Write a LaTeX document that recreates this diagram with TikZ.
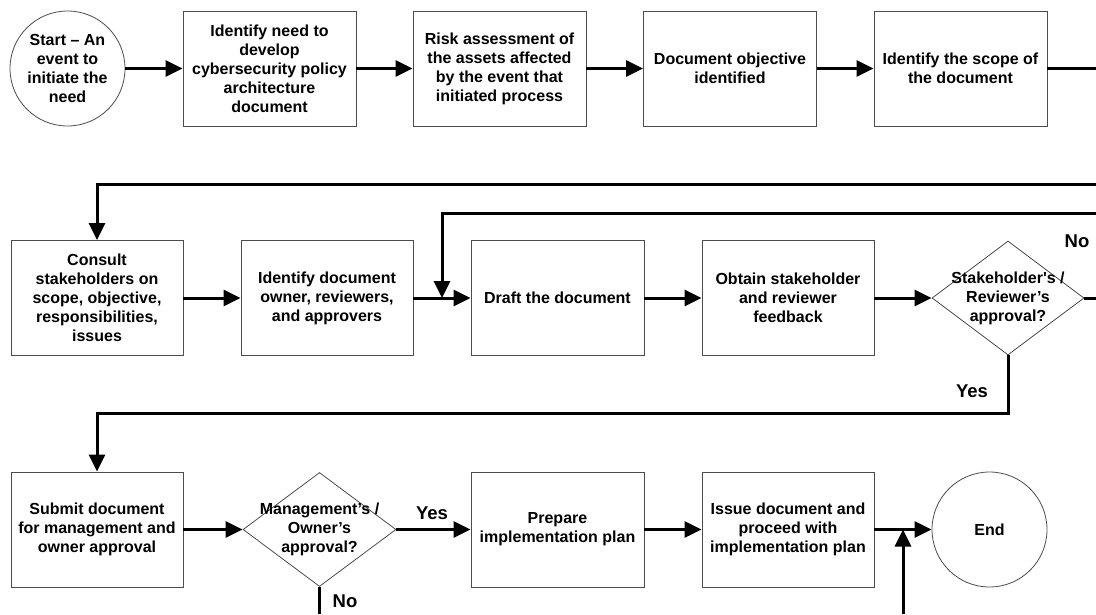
\documentclass[tikz,border=0pt]{standalone}
\usepackage{fontspec}
\setmainfont{Liberation Sans}[Ligatures=TeXOff]
\usetikzlibrary{shapes.geometric,arrows.meta}
\begin{document}
\begin{tikzpicture}[x=1pt,y=-1pt,
  txt/.style={font=\fontsize{16}{19}\selectfont\bfseries, align=center},
  box/.style={txt, draw=black!70, line width=0.8pt, rectangle, minimum width=173pt, minimum height=115pt, inner sep=2pt},
  term/.style={txt, draw=black!70, line width=0.8pt, circle, minimum size=115pt, inner sep=0pt},
  dec/.style={draw=black!70, line width=0.8pt, diamond, minimum width=153pt, minimum height=114pt, inner sep=0pt},
  flow/.style={line width=3pt, -{Triangle[length=17pt,width=16pt]}},
  plain/.style={line width=3pt},
  lab/.style={font=\fontsize{18.5}{22}\selectfont\bfseries}]
\useasboundingbox (0,0) rectangle (1096,614);
% row 1
\node[term] (start) at (67.5,68.5) {Start – An\\event to\\initiate the\\need};
\node[box] (b1) at (269.5,68.5) {Identify need to\\develop\\cybersecurity policy\\architecture\\document};
\node[box] (b2) at (499.5,68.5) {Risk assessment of\\the assets affected\\by the event that\\initiated process};
\node[box] (b3) at (730,68.5) {Document objective\\identified};
\node[box] (b4) at (960.5,68.5) {Identify the scope of\\the document};
% row 2
\node[box, minimum width=172pt] (c1) at (97,298) {Consult\\stakeholders on\\scope, objective,\\responsibilities,\\issues};
\node[box, minimum width=172pt] (c2) at (327,298) {Identify document\\owner, reviewers,\\and approvers};
\node[box] (c3) at (557.5,298) {Draft the document};
\node[box, minimum width=172pt] (c4) at (788,298) {Obtain stakeholder\\and reviewer\\feedback};
\node[dec, minimum width=152pt, label={[txt]center:{Stakeholder's /\\Reviewer’s\\approval?}}] (d1) at (1008,298) {};
% row 3
\node[box, minimum width=172pt] (e1) at (97,529.5) {Submit document\\for management and\\owner approval};
\node[dec, label={[txt]center:{Management’s /\\Owner’s\\approval?}}] (d2) at (319.5,529.5) {};
\node[box] (e3) at (557.5,529.5) {Prepare\\implementation plan};
\node[box, minimum width=172pt] (e4) at (788,529.5) {Issue document and\\proceed with\\implementation plan};
\node[term] (end) at (989.5,529.5) {End};
% free ends
\coordinate (r1) at (1096,68.5);
\coordinate (r2) at (1096,184);
\coordinate (r3) at (1096,213);
\coordinate (j1) at (442,298);
\coordinate (r4) at (1096,298);
\coordinate (y1) at (1008,413);
\coordinate (n2) at (319.5,614);
\coordinate (u1) at (903,614);
% connectors
\draw[flow] (start) -- (b1);
\draw[flow] (b1) -- (b2);
\draw[flow] (b2) -- (b3);
\draw[flow] (b3) -- (b4);
\draw[plain] (b4.east) -- (r1);
\draw[flow] (r2) -| (c1.north);
\draw[flow] (r3) -| (j1);
\draw[flow] (c1) -- (c2);
\draw[flow] (c2) -- (c3);
\draw[flow] (c3) -- (c4);
\draw[flow] (c4) -- (d1);
\draw[plain] (d1.east) -- (r4);
\draw[flow] (d1.south) -- (y1) -| (e1.north);
\draw[flow] (e1) -- (d2);
\draw[flow] (d2) -- (e3);
\draw[plain] (d2.south) -- (n2);
\draw[flow] (e3) -- (e4);
\draw[flow] (e4) -- (end);
\draw[flow] (u1) -- (u1 |- end.west);
% labels
\node[lab] (no1) at (1077,241) {No};
\node[lab] (yes1) at (972,391) {Yes};
\node[lab] (yes2) at (432,513) {Yes};
\node[lab] (no2) at (345,601) {No};
\end{tikzpicture}
\end{document}
